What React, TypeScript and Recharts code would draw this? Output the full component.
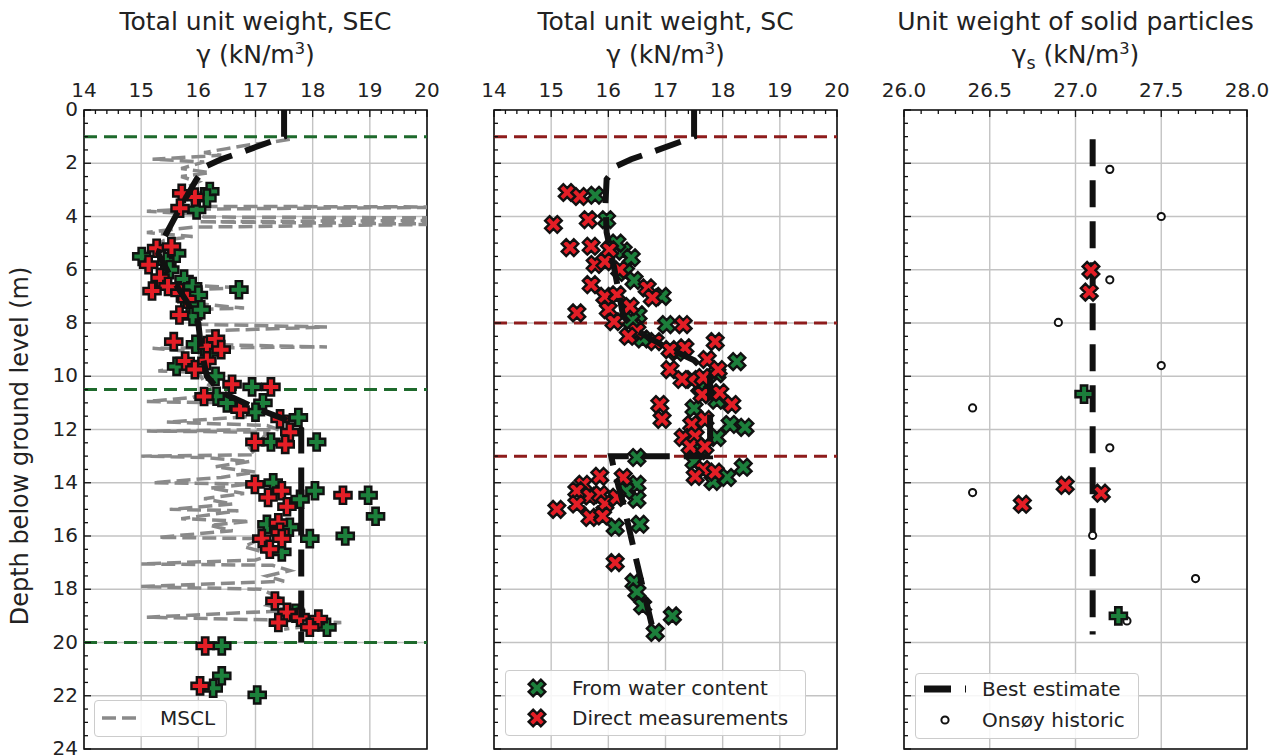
import React from 'react'
import { ScatterChart, Scatter, XAxis, YAxis, CartesianGrid, ReferenceArea } from 'recharts'

const FONT = '"DejaVu Sans", sans-serif'
const GREEN = '#1c7f3b'
const RED = '#e41e26'
const INK = '#111111'
const GRAY = '#8a8a8a'
const LAYER_GREEN = '#1e6a2c'
const LAYER_RED = '#8e1c1c'

const steps = (from: number, to: number, step: number) => {
  const n = Math.round((to - from) / step)
  return Array.from({ length: n + 1 }, (_, i) => +(from + i * step).toFixed(2))
}

// axes
const depthTicks = steps(0, 24, 0.5)
const depthLabels = [0, 2, 4, 6, 8, 10, 12, 14, 16, 18, 20, 22, 24]
const gammaTicks = steps(14, 20, 0.2)
const gammaLabels = [14, 15, 16, 17, 18, 19, 20]
const solidTicks = steps(26, 28, 0.1)
const solidLabels = [26, 26.5, 27, 27.5, 28]

// layer boundaries (depth, m)
const secLayers = [1, 10.5, 20]
const scLayers = [1, 8, 13]

// [gamma, depth]
const msclSec = [
  [17.6, 1.1], [17.3, 1.2], [16.9, 1.3], [16.5, 1.45], [16.1, 1.6], [16.4, 1.7], [15.2, 1.85], [16.1, 1.95],
  [15.7, 2.2], [16.2, 2.35], [15.7, 2.5], [16.0, 2.7], [15.8, 2.9], [16.0, 3.1], [15.8, 3.3], [16.0, 3.5],
  [16.2, 3.62], [20, 3.64], [20, 3.66], [15.9, 3.72], [15.1, 3.8], [16.0, 3.92], [16.1, 4.02], [20, 4.05],
  [20, 4.15], [16.0, 4.2], [20, 4.28], [20, 4.3], [15.9, 4.4], [15.1, 4.6], [15.9, 4.75], [15.4, 4.9],
  [15.2, 5.2], [15.0, 5.5], [15.2, 5.8], [15.4, 6.1], [15.7, 6.4], [16.0, 6.6], [16.8, 6.68], [15.9, 6.75],
  [16.0, 7.0], [16.1, 7.3], [16.8, 7.44], [15.9, 7.5], [15.8, 7.8], [16.0, 8.05], [18.25, 8.15], [16.1, 8.3],
  [16.0, 8.5], [15.9, 8.8], [18.25, 8.9], [15.2, 8.95], [16.0, 9.1], [16.1, 9.4], [15.9, 9.6], [15.3, 9.8],
  [16.0, 9.85], [16.1, 10.2], [16.3, 10.5], [15.9, 10.8], [15.1, 10.95], [16.4, 11.0], [16.8, 11.3], [17.0, 11.5],
  [15.45, 11.72], [17.2, 11.85], [17.4, 12.0], [15.1, 12.06], [17.2, 12.1], [17.1, 12.4], [16.9, 12.7], [17.0, 12.95],
  [15.0, 13.0], [16.1, 13.05], [16.9, 13.2], [16.3, 13.4], [17.0, 13.6], [16.4, 13.8], [15.2, 14.0], [16.9, 14.05],
  [16.2, 14.2], [16.8, 14.4], [16.1, 14.6], [16.6, 14.8], [15.5, 15.0], [16.7, 15.05], [15.7, 15.35], [16.9, 15.45],
  [16.2, 15.6], [16.6, 15.8], [15.3, 16.05], [17.1, 16.1], [16.8, 16.4], [17.3, 16.7], [17.0, 16.9], [15.0, 17.05],
  [17.3, 17.1], [17.6, 17.3], [17.2, 17.5], [17.5, 17.7], [15.0, 17.9], [17.1, 18.0], [17.4, 18.3], [17.2, 18.6],
  [17.6, 18.8], [15.1, 19.05], [17.2, 19.15], [18.5, 19.25], [17.9, 19.4], [17.5, 19.5],
]

const bestSec = [
  [17.5, 0], [17.5, 1.0], [17.25, 1.2], [16.8, 1.55], [16.4, 1.85], [16.15, 2.1], [15.97, 2.6], [15.7, 3.6],
  [15.4, 4.8], [15.3, 5.4], [15.5, 6.2], [15.8, 7.2], [16.0, 8.0], [16.05, 9.0], [16.15, 10.0], [16.4, 10.6],
  [17.0, 11.2], [17.5, 11.6], [17.8, 12.0], [17.8, 20.0],
]

const secWater = [
  [16.2, 3.06], [16.15, 3.31], [15.97, 3.75], [15.01, 5.5], [15.45, 5.69], [15.62, 5.38], [15.5, 6.0], [15.75, 6.35],
  [15.9, 6.63], [16.71, 6.75], [16.0, 6.95], [15.85, 7.3], [15.9, 7.75], [16.05, 7.5], [15.95, 8.8], [16.2, 9.1],
  [15.62, 9.63], [16.3, 10.0], [16.94, 10.4], [16.32, 10.75], [16.5, 11.0], [17.13, 11.0], [17.0, 11.35], [17.75, 11.55],
  [17.27, 12.47], [18.07, 12.47], [17.31, 14.0], [17.78, 14.62], [18.04, 14.3], [18.97, 14.47], [19.1, 15.26], [17.2, 15.56],
  [17.6, 15.67], [17.95, 16.1], [18.57, 16.0], [17.46, 16.6], [17.7, 18.9], [18.25, 19.43], [16.41, 20.13], [16.41, 21.25],
  [16.26, 21.72], [17.03, 21.97],
]

const secDirect = [
  [15.71, 3.13], [15.94, 3.27], [15.68, 3.69], [15.27, 5.19], [15.53, 5.13], [15.13, 5.81], [15.33, 6.3], [15.47, 6.63],
  [15.19, 6.8], [15.68, 6.87], [15.8, 7.1], [15.67, 7.7], [15.57, 8.7], [16.15, 8.85], [16.3, 8.6], [16.4, 9.0],
  [15.77, 9.43], [16.15, 9.42], [15.94, 9.75], [16.59, 10.3], [17.27, 10.4], [16.1, 10.76], [16.73, 11.25], [17.43, 11.6],
  [17.6, 12.1], [16.99, 12.47], [17.52, 12.56], [16.99, 14.06], [17.46, 14.3], [17.22, 14.55], [18.53, 14.47], [17.55, 14.9],
  [17.4, 15.5], [17.43, 15.86], [17.46, 16.1], [17.11, 16.1], [17.25, 16.5], [17.34, 18.44], [17.55, 18.87], [17.4, 19.25],
  [17.78, 19.05], [18.1, 19.12], [17.95, 19.43], [16.12, 20.13], [16.03, 21.63],
]

const bestSc = [
  [17.5, 0], [17.5, 1.0], [17.25, 1.2], [16.8, 1.55], [16.4, 1.85], [16.15, 2.1], [15.97, 2.6], [15.95, 3.5],
  [15.97, 4.6], [16.1, 5.9], [16.26, 7.75], [16.5, 8.3], [17.0, 8.9], [17.5, 9.4], [17.78, 10.0], [17.78, 13.0],
  [16.05, 13.0], [16.1, 13.5], [16.25, 14.7], [16.35, 15.6], [16.5, 17.0], [16.8, 19.7],
]

const scWater = [
  [15.77, 3.2], [15.97, 4.12], [16.26, 5.3], [16.4, 5.55], [16.15, 5.0], [16.3, 6.1], [16.45, 6.4], [16.94, 7.0],
  [16.52, 7.69], [16.4, 7.9], [17.02, 8.06], [16.6, 8.6], [17.2, 9.1], [18.25, 9.45], [17.9, 9.9], [17.6, 10.4],
  [17.9, 10.9], [17.5, 11.2], [18.13, 11.81], [18.39, 11.92], [17.9, 12.3], [17.6, 12.8], [16.5, 13.05], [17.5, 13.2],
  [18.36, 13.42], [18.08, 13.8], [17.83, 13.95], [16.5, 14.06], [16.5, 14.62], [16.3, 14.3], [16.12, 15.67], [16.55, 15.56],
  [16.45, 17.74], [16.5, 18.1], [16.6, 18.62], [17.12, 19.0], [16.82, 19.62],
]

const scDirect = [
  [15.28, 3.1], [15.5, 3.25], [15.04, 4.3], [15.65, 4.12], [15.33, 5.17], [15.7, 5.12], [16.02, 5.25], [15.77, 5.8],
  [15.94, 5.7], [16.2, 6.0], [15.7, 6.56], [15.94, 7.0], [16.15, 6.94], [16.68, 6.68], [16.77, 7.05], [16.0, 7.5],
  [15.45, 7.62], [16.38, 7.38], [16.1, 7.95], [16.5, 8.3], [17.31, 8.06], [16.35, 8.5], [16.82, 8.7], [17.08, 9.0],
  [17.34, 8.93], [17.87, 8.7], [17.73, 9.37], [17.08, 9.75], [17.46, 10.12], [17.66, 10.05], [17.92, 9.75], [17.29, 10.12],
  [17.64, 10.69], [17.95, 10.62], [18.16, 11.06], [16.9, 11.06], [16.94, 11.62], [17.46, 11.81], [17.69, 11.62], [17.31, 12.3],
  [17.52, 12.25], [17.43, 12.64], [17.69, 12.64], [17.66, 13.5], [17.52, 13.76], [17.87, 13.6], [15.85, 13.76], [16.26, 13.8],
  [15.56, 14.06], [15.45, 14.3], [15.68, 14.5], [15.86, 14.44], [15.45, 14.8], [15.94, 14.8], [16.15, 14.55], [15.1, 15.0],
  [15.68, 15.3], [15.9, 15.25], [16.12, 17.0],
]

const bestSolid = [[27.1, 1.1], [27.1, 19.7]]
const solidHistoric = [
  [27.2, 2.23], [27.5, 4.0], [27.2, 6.38], [26.9, 7.98], [27.5, 9.6], [26.4, 11.19],
  [27.2, 12.69], [26.4, 14.37], [27.1, 15.98], [27.7, 17.6], [27.3, 19.19],
]
const solidDirect = [[27.09, 6.02], [27.08, 6.84], [26.94, 14.1], [26.69, 14.81], [27.15, 14.39]]
const solidWater = [[27.05, 10.67], [27.25, 19.0]]

const asPts = (rows: number[][]) => rows.map(([g, d]) => ({ g, d }))
const layerPts = (d: number, x0: number, x1: number) => [{ g: x0, d }, { g: x1, d }]

const plusPoints = (L: number, a: number) =>
  `${-a},${-L} ${a},${-L} ${a},${-a} ${L},${-a} ${L},${a} ${a},${a} ${a},${L} ${-a},${L} ${-a},${a} ${-L},${a} ${-L},${-a} ${-a},${-a}`

function Plus({ cx, cy, fill, rot = 0 }: any) {
  return (
    <polygon
      transform={`translate(${cx},${cy}) rotate(${rot})`}
      points={plusPoints(8.6, 3.2)}
      fill={fill}
      stroke={INK}
      strokeWidth={2.4}
    />
  )
}

const noDot = () => <g />
const plusShape = (fill: string) => (p: any) => <Plus cx={p.cx} cy={p.cy} fill={fill} />
const crossShape = (fill: string) => (p: any) => <Plus cx={p.cx} cy={p.cy} fill={fill} rot={45} />
const ringShape = (p: any) => <circle cx={p.cx} cy={p.cy} r={3.6} fill="#fff" stroke={INK} strokeWidth={2} />

function XTick(props: any) {
  const { x, y, payload, labels, fmt } = props
  const v = payload.value
  const major = labels.some((m: number) => Math.abs(m - v) < 1e-6)
  return (
    <g>
      <line x1={x} x2={x} y1={y} y2={y + (major ? 7 : 4)} stroke={INK} strokeWidth={1.3} />
      {major && (
        <text x={x} y={y - 13} textAnchor="middle" fontSize={20} fill="#222" fontFamily={FONT}>
          {fmt(v)}
        </text>
      )}
    </g>
  )
}

function YTick(props: any) {
  const { x, y, payload, show } = props
  const v = payload.value
  const major = depthLabels.includes(v)
  return (
    <g>
      <line x1={x} x2={x + (major ? 7 : 4)} y1={y} y2={y} stroke={INK} strokeWidth={1.3} />
      {show && major && (
        <text x={x - 6} y={y} dy="0.3em" textAnchor="end" fontSize={20} fill="#222" fontFamily={FONT}>
          {v}
        </text>
      )}
    </g>
  )
}

function Panel({ left, width, rightPad, yWidth, domain, ticks, labels, fmt, showDepth, children }: any) {
  return (
    <div style={{ position: 'absolute', left, top: 0 }}>
      <ScatterChart width={width} height={756} margin={{ top: 80, right: rightPad, bottom: 7, left: 0 }}>
        <CartesianGrid stroke="#c3c3c3" strokeWidth={1.4} verticalValues={labels} horizontalValues={depthLabels} />
        <XAxis
          type="number" dataKey="g" orientation="top" height={30} domain={domain} allowDataOverflow
          ticks={ticks} interval={0} tickLine={false} axisLine={false} tickSize={0} tickMargin={0}
          tick={(p: any) => <XTick {...p} labels={labels} fmt={fmt} />}
        />
        <YAxis
          type="number" dataKey="d" reversed domain={[0, 24]} allowDataOverflow width={yWidth}
          ticks={depthTicks} interval={0} tickLine={false} axisLine={false} tickSize={0} tickMargin={0}
          tick={(p: any) => <YTick {...p} show={showDepth} />}
        />
        {children}
        <ReferenceArea x1={domain[0]} x2={domain[1]} y1={0} y2={24} fill="none" stroke={INK} strokeWidth={1.6} />
      </ScatterChart>
    </div>
  )
}

const bestLine = { stroke: INK, strokeWidth: 6, strokeDasharray: '27 14', fill: 'none' }

function Title({ cx, title, unit }: any) {
  return (
    <>
      <div style={{ position: 'absolute', left: cx - 250, top: 7, width: 500, textAlign: 'center', fontSize: 25, lineHeight: '30px', color: '#222' }}>
        {title}
      </div>
      <div style={{ position: 'absolute', left: cx - 250, top: 40, width: 500, textAlign: 'center', fontSize: 25, lineHeight: '30px', color: '#222' }}>
        {unit}
      </div>
    </>
  )
}

const sup = { fontSize: '0.65em', verticalAlign: 'super', lineHeight: 0 } as const
const sub = { fontSize: '0.7em', verticalAlign: 'sub', lineHeight: 0 } as const

function LegendBox({ left, top, width, height, children }: any) {
  return (
    <div style={{
      position: 'absolute', left, top, width, height, boxSizing: 'border-box',
      border: '1px solid #cccccc', borderRadius: 4, background: 'rgba(255,255,255,0.85)',
    }}>
      {children}
    </div>
  )
}

function LegendRow({ y, iconX, textX, icon, label }: any) {
  return (
    <>
      <svg style={{ position: 'absolute', left: iconX - 25, top: y - 12 }} width={50} height={24}>
        <g transform="translate(25,12)">{icon}</g>
      </svg>
      <div style={{ position: 'absolute', left: textX, top: y - 14, fontSize: 20, lineHeight: '28px', color: '#222', whiteSpace: 'nowrap' }}>
        {label}
      </div>
    </>
  )
}

export default function App() {
  return (
    <div style={{ position: 'absolute', left: 0, top: 0, width: 1282, height: 756, background: '#fff', fontFamily: FONT, overflow: 'hidden' }}>
      <Panel left={0} width={440} rightPad={13} yWidth={84} domain={[14, 20]} ticks={gammaTicks} labels={gammaLabels} fmt={(v: number) => String(v)} showDepth>
        {secLayers.map((d) => (
          <Scatter key={'l' + d} data={layerPts(d, 14, 20)} shape={noDot} isAnimationActive={false}
            line={{ stroke: LAYER_GREEN, strokeWidth: 3, strokeDasharray: '13 7', fill: 'none' }} />
        ))}
        <Scatter data={asPts(msclSec)} shape={noDot} isAnimationActive={false}
          line={{ stroke: GRAY, strokeWidth: 3.5, strokeDasharray: '14 6', fill: 'none' }} />
        <Scatter data={asPts(secWater)} shape={plusShape(GREEN)} isAnimationActive={false} />
        <Scatter data={asPts(secDirect)} shape={plusShape(RED)} isAnimationActive={false} />
        <Scatter data={asPts(bestSec)} shape={noDot} isAnimationActive={false} line={bestLine} />
      </Panel>

      <Panel left={470} width={380} rightPad={13} yWidth={24} domain={[14, 20]} ticks={gammaTicks} labels={gammaLabels} fmt={(v: number) => String(v)} showDepth={false}>
        {scLayers.map((d) => (
          <Scatter key={'l' + d} data={layerPts(d, 14, 20)} shape={noDot} isAnimationActive={false}
            line={{ stroke: LAYER_RED, strokeWidth: 3, strokeDasharray: '13 7', fill: 'none' }} />
        ))}
        <Scatter data={asPts(scWater)} shape={crossShape(GREEN)} isAnimationActive={false} />
        <Scatter data={asPts(scDirect)} shape={crossShape(RED)} isAnimationActive={false} />
        <Scatter data={asPts(bestSc)} shape={noDot} isAnimationActive={false} line={bestLine} />
      </Panel>

      <Panel left={880} width={400} rightPad={33} yWidth={24} domain={[26, 28]} ticks={solidTicks} labels={solidLabels} fmt={(v: number) => v.toFixed(1)} showDepth={false}>
        <Scatter data={asPts(bestSolid)} shape={noDot} isAnimationActive={false} line={bestLine} />
        <Scatter data={asPts(solidHistoric)} shape={ringShape} isAnimationActive={false} />
        <Scatter data={asPts(solidDirect)} shape={crossShape(RED)} isAnimationActive={false} />
        <Scatter data={asPts(solidWater)} shape={plusShape(GREEN)} isAnimationActive={false} />
      </Panel>

      <Title cx={255.5} title="Total unit weight, SEC" unit={<>γ (kN/m<span style={sup}>3</span>)</>} />
      <Title cx={665.5} title="Total unit weight, SC" unit={<>γ (kN/m<span style={sup}>3</span>)</>} />
      <Title cx={1075.5} title="Unit weight of solid particles" unit={<>γ<span style={sub}>s</span> (kN/m<span style={sup}>3</span>)</>} />

      <div style={{
        position: 'absolute', left: 20 - 250, top: 446 - 15, width: 500, height: 30, lineHeight: '30px',
        textAlign: 'center', fontSize: 24, color: '#222', transform: 'rotate(-90deg)',
      }}>
        Depth below ground level (m)
      </div>

      <LegendBox left={94} top={700} width={133} height={37} />
      <LegendRow y={718} iconX={122} textX={160}
        icon={<line x1={-20} x2={20} y1={0} y2={0} stroke={GRAY} strokeWidth={3.5} strokeDasharray="14 6" />} label="MSCL" />

      <LegendBox left={505} top={670} width={301} height={66} />
      <LegendRow y={688} iconX={537} textX={572} icon={<Plus cx={0} cy={0} fill={GREEN} rot={45} />} label="From water content" />
      <LegendRow y={718} iconX={537} textX={572} icon={<Plus cx={0} cy={0} fill={RED} rot={45} />} label="Direct measurements" />

      <LegendBox left={915} top={673} width={224} height={66} />
      <LegendRow y={689} iconX={945} textX={982}
        icon={<line x1={-21} x2={21} y1={0} y2={0} stroke={INK} strokeWidth={7} strokeDasharray="27 14" />} label="Best estimate" />
      <LegendRow y={720} iconX={945} textX={982} icon={<circle cx={0} cy={0} r={3.6} fill="#fff" stroke={INK} strokeWidth={2} />} label="Onsøy historic" />
    </div>
  )
}
